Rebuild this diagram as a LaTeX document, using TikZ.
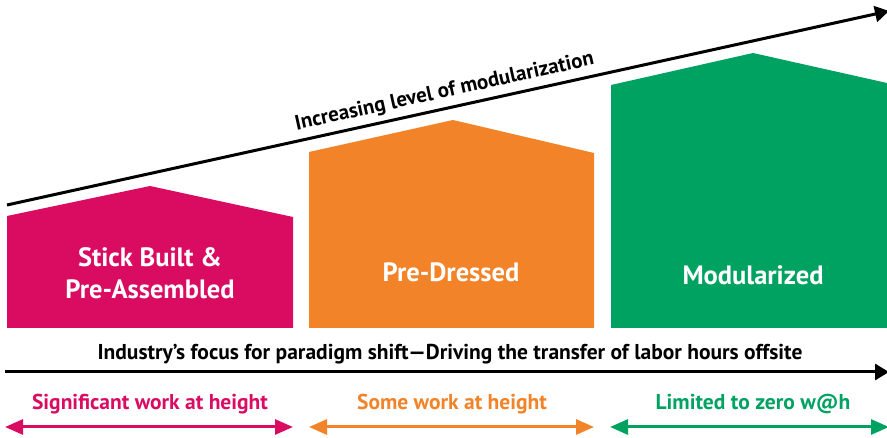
\documentclass[tikz,border=0pt]{standalone}
\usepackage{fontspec}
\setmainfont{PT Sans}
\usetikzlibrary{arrows.meta}
\definecolor{magentared}{HTML}{DA0C62}
\definecolor{brightorange}{HTML}{F28328}
\definecolor{leafgreen}{HTML}{00A262}
\begin{document}
\begin{tikzpicture}[x=1pt,y=-1pt,
	stage/.style={text=white,font=\bfseries\fontsize{26.5}{32}\selectfont,align=center},
	height label/.style={text=#1,font=\bfseries\fontsize{21.5}{24}\selectfont},
	trend/.style={line width=3pt,-{Triangle[length=14pt,width=16pt]}},
	span/.style={draw=#1,line width=3pt,{Triangle[length=18pt,width=15pt]}-{Triangle[length=18pt,width=15pt]}}]
\useasboundingbox (0,0) rectangle (887,438);
% houses
\fill[magentared] (7,328) -- (7,216) -- (150,186) -- (293,217) -- (293,328) -- cycle;
\fill[brightorange] (309,328) -- (309,152) -- (453,120) -- (594,153) -- (594,328) -- cycle;
\fill[leafgreen] (611,328) -- (611,85) -- (753,53) -- (887,83) -- (887,328) -- cycle;
\node[stage] (stick) at (150,273) {Stick Built \&\\Pre-Assembled};
\node[stage] (dressed) at (451,272) {Pre-Dressed};
\node[stage] (modular) at (753,275) {Modularized};
% trend arrows
\coordinate (modstart) at (7,205);
\coordinate (modend) at (889,11);
\draw[trend] (modstart) -- (modend)
	node[pos=0.5,sloped,above=4pt,inner sep=1pt,font=\bfseries\fontsize{21}{24}\selectfont] (modtext) {Increasing level of modularization};
\coordinate (focusstart) at (5,372);
\coordinate (focusend) at (889,372);
\draw[trend] (focusstart) -- (focusend);
\node[font=\bfseries\fontsize{21.5}{24}\selectfont] (focus) at (450,354) {Industry’s focus for paradigm shift—Driving the transfer of labor hours offsite};
% work at height
\node[height label=magentared] (significant) at (150,404) {Significant work at height};
\node[height label=brightorange] (some) at (452,404) {Some work at height};
\node[height label=leafgreen] (limited) at (753,404) {Limited to zero w@h};
\coordinate (sigl) at (5,427);
\coordinate (sigr) at (293,427);
\coordinate (somel) at (309,427);
\coordinate (somer) at (594,427);
\coordinate (liml) at (610,427);
\coordinate (limr) at (889,427);
\draw[span=magentared] (sigl) -- (sigr);
\draw[span=brightorange] (somel) -- (somer);
\draw[span=leafgreen] (liml) -- (limr);
\end{tikzpicture}
\end{document}
